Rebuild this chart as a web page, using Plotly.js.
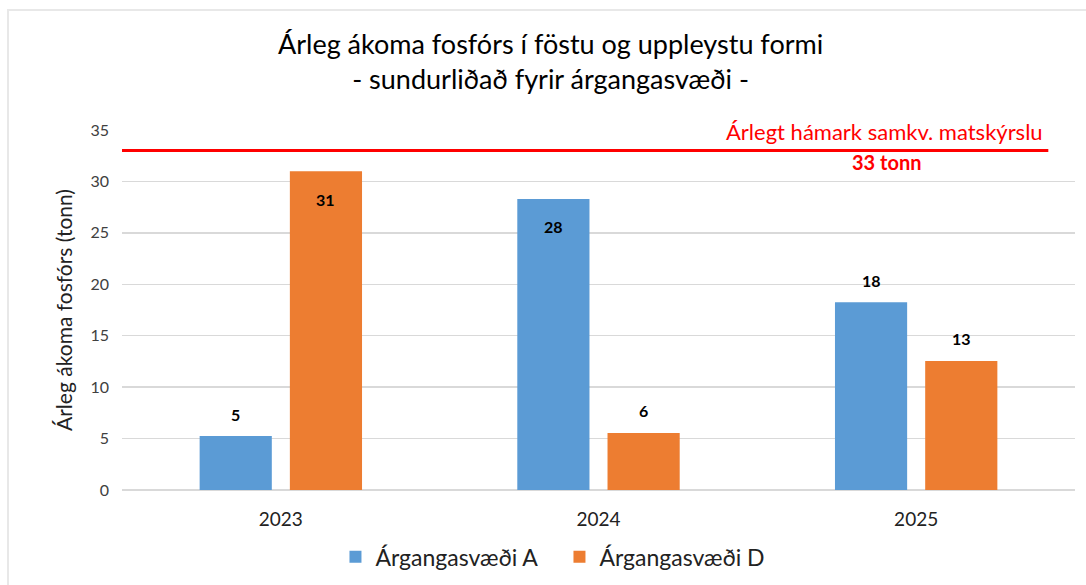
<!DOCTYPE html>
<html>
<head>
<meta charset="utf-8">
<script src="https://cdn.plot.ly/plotly-3.0.1.min.js"></script>
<style>
html,body{margin:0;padding:0;background:#fff;overflow:hidden;}
#wrap{position:relative;width:1086px;height:585px;overflow:hidden;}
#chart{width:1086px;height:585px;}
#frame{position:absolute;left:7px;top:9px;width:1200px;height:700px;border:2px solid #E8E8E8;pointer-events:none;}
</style>
</head>
<body>
<div id="wrap">
<div id="chart"></div>
<div id="frame"></div>
</div>
<script>
var years = ['2023', '2024', '2025'];
var seriesNames = ['Árgangasvæði A', 'Árgangasvæði D'];
var valuesA = [5.25, 28.3, 18.25];
var valuesD = [31.0, 5.55, 12.55];
var limitValue = 33;
var limitLabel = 'Árlegt hámark samkv. matskýrslu';
var limitValueLabel = '33 tonn';
var titleLines = ['Árleg ákoma fosfórs í föstu og uppleystu formi', '- sundurliðað fyrir árgangasvæði -'];
var yTitle = 'Árleg ákoma fosfórs (tonn)';

var colors = ['#5B9BD5', '#ED7D31'];
var font = 'Lato, "Open Sans", sans-serif';

var traces = [valuesA, valuesD].map(function (vals, i) {
  return {
    type: 'bar',
    name: seriesNames[i],
    x: years,
    y: vals,
    marker: {color: colors[i]},
    hoverinfo: 'none'
  };
});

var annotations = [];
[valuesA, valuesD].forEach(function (vals, i) {
  vals.forEach(function (v, j) {
    annotations.push({
      x: j, y: v, xref: 'x', yref: 'y',
      xshift: i === 0 ? -45 : 45,
      yshift: v > 25 ? -28 : 22,
      text: '<b>' + Math.round(v) + '</b>',
      showarrow: false,
      font: {family: font, size: 16, color: '#000'}
    });
  });
});
annotations.push({
  x: 0.968, xref: 'paper', xanchor: 'right',
  y: limitValue, yref: 'y', yshift: 19,
  text: limitLabel, showarrow: false,
  font: {family: font, size: 22, color: '#FF0000'}
});
annotations.push({
  x: 0.802, xref: 'paper', xanchor: 'center',
  y: limitValue, yref: 'y', yshift: -11,
  text: '<b>' + limitValueLabel + '</b>', showarrow: false,
  font: {family: font, size: 20, color: '#FF0000'}
});

var layout = {
  width: 1086, height: 585,
  margin: {l: 122, r: 11, t: 130, b: 95},
  paper_bgcolor: '#fff', plot_bgcolor: '#fff',
  font: {family: font, color: '#404040'},
  title: {
    text: titleLines.join('<br>'),
    x: 0.507, xanchor: 'center', y: 0.908, yanchor: 'middle',
    font: {family: font, size: 27, color: '#000'}
  },
  barmode: 'group',
  bargap: 0.432,
  bargroupgap: 0.2,
  xaxis: {
    type: 'category',
    range: [-0.5, 2.5],
    automargin: false,
    tickfont: {family: font, size: 19, color: '#222'},
    showgrid: false, zeroline: false,
    showline: false, ticks: '',
    ticklabelstandoff: 16
  },
  yaxis: {
    range: [0, 35], dtick: 5, tick0: 0,
    automargin: false,
    gridcolor: '#D9D9D9', gridwidth: 1.5,
    zeroline: true, zerolinecolor: '#D9D9D9', zerolinewidth: 1.5,
    showline: false, ticks: '',
    tickfont: {family: font, size: 16, color: '#404040'},
    ticklabelstandoff: 12,
    title: {text: yTitle, standoff: 12, font: {family: font, size: 21, color: '#222'}}
  },
  shapes: [{
    type: 'line', xref: 'paper', yref: 'y',
    x0: 0, x1: 0.972, y0: limitValue, y1: limitValue,
    line: {color: '#FF0000', width: 3}
  }],
  annotations: annotations,
  showlegend: true,
  legend: {
    orientation: 'h',
    xref: 'paper', x: 0.224, xanchor: 'left',
    yref: 'container', y: 0.048, yanchor: 'middle',
    font: {family: font, size: 23, color: '#222'},
    entrywidth: 179,
    bgcolor: 'rgba(0,0,0,0)'
  }
};

Plotly.newPlot('chart', traces, layout, {displayModeBar: false, staticPlot: true});
</script>
</body>
</html>
